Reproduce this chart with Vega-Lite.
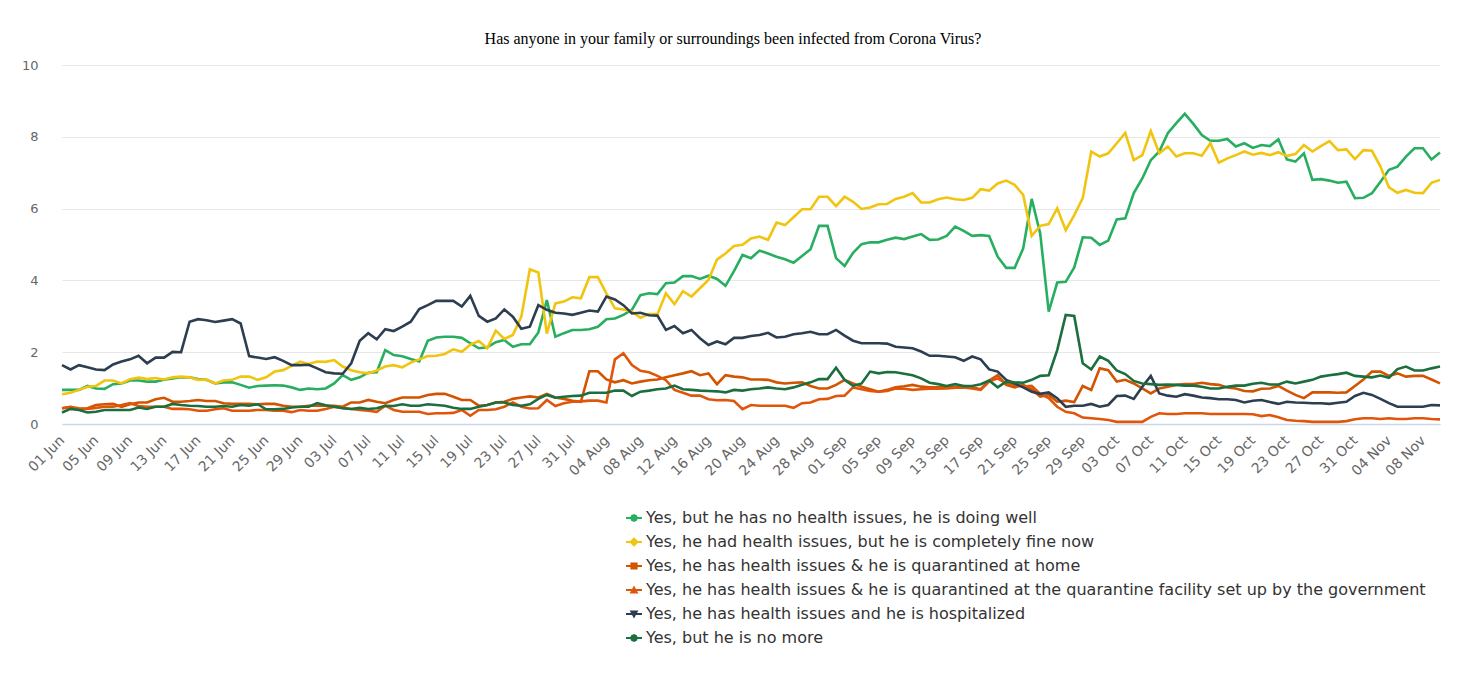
{
"$schema":"https://vega.github.io/schema/vega-lite/v6.json",
"width":1378,"height":359,
"autosize":"none",
"padding":{"left":62,"top":65,"right":26,"bottom":256},
"background":"#ffffff",
"title":{"text":"Has anyone in your family or surroundings been infected from Corona Virus?","font":"Liberation Serif","fontSize":16,"fontWeight":"normal","color":"#000000","anchor":"middle","offset":12,"dx":-18},
"data":{"values":[
{"d":"2020-06-01","well":0.95,"fine":0.83,"home":0.44,"fac":0.44,"hosp":1.64,"gone":0.32},
{"d":"2020-06-02","well":0.95,"fine":0.87,"home":0.48,"fac":0.47,"hosp":1.52,"gone":0.42},
{"d":"2020-06-03","well":0.95,"fine":0.95,"home":0.41,"fac":0.44,"hosp":1.64,"gone":0.39},
{"d":"2020-06-04","well":1.06,"fine":1.04,"home":0.44,"fac":0.42,"hosp":1.58,"gone":0.32},
{"d":"2020-06-05","well":0.99,"fine":1.06,"home":0.53,"fac":0.45,"hosp":1.52,"gone":0.34},
{"d":"2020-06-06","well":0.98,"fine":1.21,"home":0.55,"fac":0.48,"hosp":1.50,"gone":0.39},
{"d":"2020-06-07","well":1.11,"fine":1.21,"home":0.56,"fac":0.48,"hosp":1.66,"gone":0.39},
{"d":"2020-06-08","well":1.13,"fine":1.13,"home":0.48,"fac":0.53,"hosp":1.74,"gone":0.39},
{"d":"2020-06-09","well":1.21,"fine":1.25,"home":0.55,"fac":0.58,"hosp":1.80,"gone":0.39},
{"d":"2020-06-10","well":1.21,"fine":1.29,"home":0.60,"fac":0.50,"hosp":1.90,"gone":0.46},
{"d":"2020-06-11","well":1.18,"fine":1.25,"home":0.60,"fac":0.48,"hosp":1.69,"gone":0.42},
{"d":"2020-06-12","well":1.18,"fine":1.28,"home":0.69,"fac":0.48,"hosp":1.85,"gone":0.48},
{"d":"2020-06-13","well":1.23,"fine":1.24,"home":0.73,"fac":0.48,"hosp":1.85,"gone":0.48},
{"d":"2020-06-14","well":1.27,"fine":1.30,"home":0.62,"fac":0.42,"hosp":2.01,"gone":0.56},
{"d":"2020-06-15","well":1.30,"fine":1.32,"home":0.62,"fac":0.42,"hosp":2.00,"gone":0.53},
{"d":"2020-06-16","well":1.30,"fine":1.30,"home":0.64,"fac":0.41,"hosp":2.85,"gone":0.51},
{"d":"2020-06-17","well":1.25,"fine":1.23,"home":0.67,"fac":0.37,"hosp":2.92,"gone":0.50},
{"d":"2020-06-18","well":1.23,"fine":1.24,"home":0.64,"fac":0.37,"hosp":2.89,"gone":0.48},
{"d":"2020-06-19","well":1.13,"fine":1.13,"home":0.64,"fac":0.41,"hosp":2.84,"gone":0.48},
{"d":"2020-06-20","well":1.16,"fine":1.21,"home":0.58,"fac":0.44,"hosp":2.88,"gone":0.50},
{"d":"2020-06-21","well":1.16,"fine":1.23,"home":0.56,"fac":0.37,"hosp":2.92,"gone":0.48},
{"d":"2020-06-22","well":1.09,"fine":1.32,"home":0.56,"fac":0.37,"hosp":2.80,"gone":0.53},
{"d":"2020-06-23","well":1.01,"fine":1.32,"home":0.56,"fac":0.37,"hosp":1.89,"gone":0.51},
{"d":"2020-06-24","well":1.06,"fine":1.23,"home":0.55,"fac":0.39,"hosp":1.85,"gone":0.55},
{"d":"2020-06-25","well":1.07,"fine":1.30,"home":0.56,"fac":0.39,"hosp":1.81,"gone":0.41},
{"d":"2020-06-26","well":1.08,"fine":1.46,"home":0.56,"fac":0.37,"hosp":1.86,"gone":0.41},
{"d":"2020-06-27","well":1.07,"fine":1.50,"home":0.51,"fac":0.37,"hosp":1.76,"gone":0.42},
{"d":"2020-06-28","well":1.02,"fine":1.62,"home":0.48,"fac":0.33,"hosp":1.64,"gone":0.46},
{"d":"2020-06-29","well":0.95,"fine":1.74,"home":0.48,"fac":0.39,"hosp":1.64,"gone":0.48},
{"d":"2020-06-30","well":0.99,"fine":1.67,"home":0.51,"fac":0.37,"hosp":1.65,"gone":0.48},
{"d":"2020-07-01","well":0.97,"fine":1.74,"home":0.51,"fac":0.37,"hosp":1.55,"gone":0.58},
{"d":"2020-07-02","well":0.99,"fine":1.73,"home":0.51,"fac":0.42,"hosp":1.44,"gone":0.52},
{"d":"2020-07-03","well":1.13,"fine":1.78,"home":0.51,"fac":0.48,"hosp":1.41,"gone":0.48},
{"d":"2020-07-04","well":1.36,"fine":1.60,"home":0.48,"fac":0.45,"hosp":1.40,"gone":0.44},
{"d":"2020-07-05","well":1.23,"fine":1.50,"home":0.60,"fac":0.42,"hosp":1.69,"gone":0.42},
{"d":"2020-07-06","well":1.30,"fine":1.44,"home":0.60,"fac":0.39,"hosp":2.32,"gone":0.45},
{"d":"2020-07-07","well":1.43,"fine":1.41,"home":0.67,"fac":0.37,"hosp":2.53,"gone":0.42},
{"d":"2020-07-08","well":1.44,"fine":1.49,"home":0.62,"fac":0.34,"hosp":2.36,"gone":0.44},
{"d":"2020-07-09","well":2.06,"fine":1.60,"home":0.58,"fac":0.51,"hosp":2.64,"gone":0.51},
{"d":"2020-07-10","well":1.92,"fine":1.64,"home":0.67,"fac":0.39,"hosp":2.59,"gone":0.50},
{"d":"2020-07-11","well":1.89,"fine":1.58,"home":0.74,"fac":0.34,"hosp":2.71,"gone":0.55},
{"d":"2020-07-12","well":1.81,"fine":1.71,"home":0.74,"fac":0.34,"hosp":2.85,"gone":0.51},
{"d":"2020-07-13","well":1.74,"fine":1.80,"home":0.74,"fac":0.34,"hosp":3.20,"gone":0.51},
{"d":"2020-07-14","well":2.32,"fine":1.89,"home":0.81,"fac":0.28,"hosp":3.31,"gone":0.55},
{"d":"2020-07-15","well":2.41,"fine":1.90,"home":0.84,"fac":0.30,"hosp":3.43,"gone":0.53},
{"d":"2020-07-16","well":2.43,"fine":1.95,"home":0.84,"fac":0.30,"hosp":3.43,"gone":0.51},
{"d":"2020-07-17","well":2.43,"fine":2.08,"home":0.76,"fac":0.31,"hosp":3.43,"gone":0.45},
{"d":"2020-07-18","well":2.40,"fine":2.01,"home":0.67,"fac":0.39,"hosp":3.27,"gone":0.42},
{"d":"2020-07-19","well":2.25,"fine":2.21,"home":0.67,"fac":0.23,"hosp":3.57,"gone":0.42},
{"d":"2020-07-20","well":2.11,"fine":2.31,"home":0.51,"fac":0.39,"hosp":3.01,"gone":0.48},
{"d":"2020-07-21","well":2.14,"fine":2.11,"home":0.53,"fac":0.39,"hosp":2.85,"gone":0.53},
{"d":"2020-07-22","well":2.28,"fine":2.60,"home":0.60,"fac":0.41,"hosp":2.94,"gone":0.60},
{"d":"2020-07-23","well":2.34,"fine":2.37,"home":0.62,"fac":0.48,"hosp":3.19,"gone":0.60},
{"d":"2020-07-24","well":2.15,"fine":2.48,"home":0.70,"fac":0.60,"hosp":2.99,"gone":0.53},
{"d":"2020-07-25","well":2.22,"fine":2.99,"home":0.74,"fac":0.48,"hosp":2.65,"gone":0.51},
{"d":"2020-07-26","well":2.22,"fine":4.31,"home":0.77,"fac":0.43,"hosp":2.71,"gone":0.55},
{"d":"2020-07-27","well":2.55,"fine":4.22,"home":0.74,"fac":0.44,"hosp":3.31,"gone":0.70},
{"d":"2020-07-28","well":3.45,"fine":2.52,"home":0.84,"fac":0.67,"hosp":3.18,"gone":0.81},
{"d":"2020-07-29","well":2.43,"fine":3.36,"home":0.74,"fac":0.50,"hosp":3.10,"gone":0.73},
{"d":"2020-07-30","well":2.53,"fine":3.41,"home":0.70,"fac":0.58,"hosp":3.08,"gone":0.76},
{"d":"2020-07-31","well":2.62,"fine":3.53,"home":0.65,"fac":0.62,"hosp":3.04,"gone":0.78},
{"d":"2020-08-01","well":2.62,"fine":3.50,"home":0.62,"fac":0.63,"hosp":3.10,"gone":0.79},
{"d":"2020-08-02","well":2.64,"fine":4.09,"home":1.47,"fac":0.65,"hosp":3.16,"gone":0.87},
{"d":"2020-08-03","well":2.71,"fine":4.09,"home":1.47,"fac":0.65,"hosp":3.13,"gone":0.87},
{"d":"2020-08-04","well":2.92,"fine":3.64,"home":1.24,"fac":0.60,"hosp":3.55,"gone":0.87},
{"d":"2020-08-05","well":2.94,"fine":3.22,"home":1.16,"fac":1.80,"hosp":3.47,"gone":0.93},
{"d":"2020-08-06","well":3.04,"fine":3.19,"home":1.22,"fac":1.97,"hosp":3.31,"gone":0.93},
{"d":"2020-08-07","well":3.18,"fine":3.13,"home":1.13,"fac":1.64,"hosp":3.08,"gone":0.78},
{"d":"2020-08-08","well":3.59,"fine":2.96,"home":1.18,"fac":1.48,"hosp":3.10,"gone":0.90},
{"d":"2020-08-09","well":3.64,"fine":3.06,"home":1.22,"fac":1.44,"hosp":3.03,"gone":0.93},
{"d":"2020-08-10","well":3.62,"fine":3.06,"home":1.24,"fac":1.34,"hosp":3.02,"gone":0.97},
{"d":"2020-08-11","well":3.92,"fine":3.64,"home":1.30,"fac":1.22,"hosp":2.62,"gone":0.99},
{"d":"2020-08-12","well":3.94,"fine":3.34,"home":1.36,"fac":0.95,"hosp":2.73,"gone":1.07},
{"d":"2020-08-13","well":4.12,"fine":3.70,"home":1.41,"fac":0.87,"hosp":2.53,"gone":0.97},
{"d":"2020-08-14","well":4.12,"fine":3.55,"home":1.47,"fac":0.79,"hosp":2.62,"gone":0.95},
{"d":"2020-08-15","well":4.04,"fine":3.78,"home":1.36,"fac":0.79,"hosp":2.39,"gone":0.93},
{"d":"2020-08-16","well":4.13,"fine":4.01,"home":1.41,"fac":0.69,"hosp":2.20,"gone":0.92},
{"d":"2020-08-17","well":4.04,"fine":4.58,"home":1.11,"fac":0.66,"hosp":2.30,"gone":0.91},
{"d":"2020-08-18","well":3.85,"fine":4.75,"home":1.36,"fac":0.67,"hosp":2.22,"gone":0.88},
{"d":"2020-08-19","well":4.26,"fine":4.96,"home":1.32,"fac":0.64,"hosp":2.40,"gone":0.95},
{"d":"2020-08-20","well":4.71,"fine":4.99,"home":1.30,"fac":0.41,"hosp":2.40,"gone":0.93},
{"d":"2020-08-21","well":4.62,"fine":5.17,"home":1.24,"fac":0.53,"hosp":2.45,"gone":0.97},
{"d":"2020-08-22","well":4.83,"fine":5.22,"home":1.24,"fac":0.51,"hosp":2.48,"gone":0.99},
{"d":"2020-08-23","well":4.75,"fine":5.13,"home":1.23,"fac":0.51,"hosp":2.54,"gone":1.02},
{"d":"2020-08-24","well":4.66,"fine":5.61,"home":1.16,"fac":0.51,"hosp":2.41,"gone":0.99},
{"d":"2020-08-25","well":4.59,"fine":5.54,"home":1.13,"fac":0.51,"hosp":2.43,"gone":0.97},
{"d":"2020-08-26","well":4.49,"fine":5.76,"home":1.15,"fac":0.45,"hosp":2.50,"gone":1.02},
{"d":"2020-08-27","well":4.68,"fine":5.98,"home":1.16,"fac":0.58,"hosp":2.53,"gone":1.09},
{"d":"2020-08-28","well":4.87,"fine":5.98,"home":1.06,"fac":0.60,"hosp":2.57,"gone":1.16},
{"d":"2020-08-29","well":5.52,"fine":6.33,"home":0.99,"fac":0.69,"hosp":2.50,"gone":1.25},
{"d":"2020-08-30","well":5.52,"fine":6.33,"home":0.99,"fac":0.70,"hosp":2.50,"gone":1.25},
{"d":"2020-08-31","well":4.62,"fine":6.07,"home":1.09,"fac":0.78,"hosp":2.62,"gone":1.57},
{"d":"2020-09-01","well":4.40,"fine":6.33,"home":1.23,"fac":0.79,"hosp":2.46,"gone":1.23},
{"d":"2020-09-02","well":4.77,"fine":6.19,"home":1.13,"fac":1.02,"hosp":2.32,"gone":1.06},
{"d":"2020-09-03","well":5.01,"fine":5.99,"home":1.04,"fac":0.97,"hosp":2.25,"gone":1.13},
{"d":"2020-09-04","well":5.06,"fine":6.03,"home":0.97,"fac":0.92,"hosp":2.25,"gone":1.46},
{"d":"2020-09-05","well":5.06,"fine":6.12,"home":0.90,"fac":0.90,"hosp":2.25,"gone":1.41},
{"d":"2020-09-06","well":5.13,"fine":6.13,"home":0.95,"fac":0.92,"hosp":2.24,"gone":1.45},
{"d":"2020-09-07","well":5.19,"fine":6.27,"home":1.02,"fac":0.99,"hosp":2.15,"gone":1.44},
{"d":"2020-09-08","well":5.15,"fine":6.33,"home":1.05,"fac":0.98,"hosp":2.13,"gone":1.40},
{"d":"2020-09-09","well":5.22,"fine":6.43,"home":1.09,"fac":0.95,"hosp":2.11,"gone":1.36},
{"d":"2020-09-10","well":5.29,"fine":6.17,"home":1.04,"fac":0.97,"hosp":2.02,"gone":1.27},
{"d":"2020-09-11","well":5.13,"fine":6.17,"home":1.02,"fac":0.98,"hosp":1.90,"gone":1.15},
{"d":"2020-09-12","well":5.14,"fine":6.26,"home":1.02,"fac":0.98,"hosp":1.90,"gone":1.11},
{"d":"2020-09-13","well":5.24,"fine":6.31,"home":1.04,"fac":0.99,"hosp":1.88,"gone":1.06},
{"d":"2020-09-14","well":5.50,"fine":6.26,"home":1.02,"fac":1.01,"hosp":1.86,"gone":1.11},
{"d":"2020-09-15","well":5.38,"fine":6.24,"home":1.06,"fac":1.02,"hosp":1.76,"gone":1.06},
{"d":"2020-09-16","well":5.24,"fine":6.30,"home":1.02,"fac":0.99,"hosp":1.88,"gone":1.06},
{"d":"2020-09-17","well":5.26,"fine":6.54,"home":0.97,"fac":0.95,"hosp":1.80,"gone":1.11},
{"d":"2020-09-18","well":5.24,"fine":6.50,"home":1.21,"fac":1.18,"hosp":1.52,"gone":1.21},
{"d":"2020-09-19","well":4.66,"fine":6.70,"home":1.36,"fac":1.27,"hosp":1.46,"gone":1.02},
{"d":"2020-09-20","well":4.35,"fine":6.78,"home":1.09,"fac":1.13,"hosp":1.23,"gone":1.18},
{"d":"2020-09-21","well":4.35,"fine":6.66,"home":1.02,"fac":1.09,"hosp":1.13,"gone":1.16},
{"d":"2020-09-22","well":4.89,"fine":6.38,"home":1.09,"fac":1.04,"hosp":1.02,"gone":1.15},
{"d":"2020-09-23","well":6.27,"fine":5.24,"home":0.97,"fac":1.06,"hosp":0.90,"gone":1.23},
{"d":"2020-09-24","well":5.31,"fine":5.52,"home":0.76,"fac":0.84,"hosp":0.84,"gone":1.34},
{"d":"2020-09-25","well":3.13,"fine":5.57,"home":0.81,"fac":0.72,"hosp":0.88,"gone":1.36},
{"d":"2020-09-26","well":3.94,"fine":6.01,"home":0.62,"fac":0.48,"hosp":0.72,"gone":2.06},
{"d":"2020-09-27","well":3.96,"fine":5.40,"home":0.65,"fac":0.34,"hosp":0.48,"gone":3.04},
{"d":"2020-09-28","well":4.36,"fine":5.82,"home":0.61,"fac":0.30,"hosp":0.51,"gone":3.01},
{"d":"2020-09-29","well":5.20,"fine":6.29,"home":1.06,"fac":0.18,"hosp":0.51,"gone":1.69},
{"d":"2020-09-30","well":5.19,"fine":7.59,"home":0.95,"fac":0.16,"hosp":0.56,"gone":1.52},
{"d":"2020-10-01","well":4.99,"fine":7.45,"home":1.55,"fac":0.14,"hosp":0.48,"gone":1.88},
{"d":"2020-10-02","well":5.11,"fine":7.54,"home":1.50,"fac":0.11,"hosp":0.53,"gone":1.76},
{"d":"2020-10-03","well":5.70,"fine":7.82,"home":1.18,"fac":0.06,"hosp":0.78,"gone":1.49},
{"d":"2020-10-04","well":5.73,"fine":8.11,"home":1.23,"fac":0.06,"hosp":0.79,"gone":1.39},
{"d":"2020-10-05","well":6.43,"fine":7.35,"home":1.13,"fac":0.06,"hosp":0.70,"gone":1.20},
{"d":"2020-10-06","well":6.84,"fine":7.49,"home":0.99,"fac":0.06,"hosp":1.04,"gone":1.13},
{"d":"2020-10-07","well":7.35,"fine":8.16,"home":0.85,"fac":0.20,"hosp":1.34,"gone":1.11},
{"d":"2020-10-08","well":7.59,"fine":7.54,"home":0.99,"fac":0.30,"hosp":0.85,"gone":1.09},
{"d":"2020-10-09","well":8.10,"fine":7.73,"home":1.04,"fac":0.28,"hosp":0.79,"gone":1.10},
{"d":"2020-10-10","well":8.38,"fine":7.45,"home":1.09,"fac":0.28,"hosp":0.76,"gone":1.09},
{"d":"2020-10-11","well":8.64,"fine":7.54,"home":1.11,"fac":0.30,"hosp":0.83,"gone":1.07},
{"d":"2020-10-12","well":8.36,"fine":7.54,"home":1.11,"fac":0.30,"hosp":0.79,"gone":1.07},
{"d":"2020-10-13","well":8.05,"fine":7.47,"home":1.15,"fac":0.30,"hosp":0.74,"gone":1.04},
{"d":"2020-10-14","well":7.89,"fine":7.82,"home":1.11,"fac":0.28,"hosp":0.72,"gone":0.99},
{"d":"2020-10-15","well":7.89,"fine":7.28,"home":1.09,"fac":0.28,"hosp":0.69,"gone":0.99},
{"d":"2020-10-16","well":7.94,"fine":7.40,"home":1.02,"fac":0.28,"hosp":0.69,"gone":1.04},
{"d":"2020-10-17","well":7.73,"fine":7.49,"home":0.99,"fac":0.28,"hosp":0.67,"gone":1.07},
{"d":"2020-10-18","well":7.82,"fine":7.59,"home":0.92,"fac":0.28,"hosp":0.60,"gone":1.07},
{"d":"2020-10-19","well":7.69,"fine":7.50,"home":0.91,"fac":0.27,"hosp":0.65,"gone":1.12},
{"d":"2020-10-20","well":7.77,"fine":7.55,"home":0.98,"fac":0.22,"hosp":0.67,"gone":1.15},
{"d":"2020-10-21","well":7.74,"fine":7.49,"home":0.99,"fac":0.25,"hosp":0.61,"gone":1.10},
{"d":"2020-10-22","well":7.93,"fine":7.57,"home":1.06,"fac":0.19,"hosp":0.56,"gone":1.10},
{"d":"2020-10-23","well":7.37,"fine":7.47,"home":0.93,"fac":0.11,"hosp":0.62,"gone":1.18},
{"d":"2020-10-24","well":7.31,"fine":7.52,"home":0.81,"fac":0.09,"hosp":0.60,"gone":1.13},
{"d":"2020-10-25","well":7.54,"fine":7.77,"home":0.72,"fac":0.08,"hosp":0.59,"gone":1.18},
{"d":"2020-10-26","well":6.80,"fine":7.59,"home":0.88,"fac":0.06,"hosp":0.58,"gone":1.23},
{"d":"2020-10-27","well":6.82,"fine":7.74,"home":0.88,"fac":0.06,"hosp":0.58,"gone":1.32},
{"d":"2020-10-28","well":6.78,"fine":7.88,"home":0.88,"fac":0.06,"hosp":0.56,"gone":1.36},
{"d":"2020-10-29","well":6.72,"fine":7.63,"home":0.87,"fac":0.06,"hosp":0.59,"gone":1.39},
{"d":"2020-10-30","well":6.75,"fine":7.65,"home":0.88,"fac":0.08,"hosp":0.62,"gone":1.43},
{"d":"2020-10-31","well":6.29,"fine":7.38,"home":1.06,"fac":0.13,"hosp":0.78,"gone":1.34},
{"d":"2020-11-01","well":6.30,"fine":7.63,"home":1.24,"fac":0.16,"hosp":0.87,"gone":1.32},
{"d":"2020-11-02","well":6.43,"fine":7.61,"home":1.46,"fac":0.16,"hosp":0.81,"gone":1.30},
{"d":"2020-11-03","well":6.75,"fine":7.17,"home":1.46,"fac":0.14,"hosp":0.70,"gone":1.35},
{"d":"2020-11-04","well":7.08,"fine":6.59,"home":1.34,"fac":0.16,"hosp":0.58,"gone":1.29},
{"d":"2020-11-05","well":7.17,"fine":6.44,"home":1.41,"fac":0.14,"hosp":0.48,"gone":1.53},
{"d":"2020-11-06","well":7.45,"fine":6.52,"home":1.32,"fac":0.14,"hosp":0.48,"gone":1.60},
{"d":"2020-11-07","well":7.68,"fine":6.44,"home":1.34,"fac":0.16,"hosp":0.48,"gone":1.49},
{"d":"2020-11-08","well":7.68,"fine":6.43,"home":1.34,"fac":0.16,"hosp":0.48,"gone":1.49},
{"d":"2020-11-09","well":7.37,"fine":6.72,"home":1.24,"fac":0.14,"hosp":0.53,"gone":1.55},
{"d":"2020-11-10","well":7.56,"fine":6.80,"home":1.13,"fac":0.13,"hosp":0.52,"gone":1.60}
]},
"transform":[{"fold":["well","fine","home","fac","hosp","gone"],"as":["s","v"]}],
"encoding":{
 "x":{"field":"d","type":"temporal",
  "scale":{"type":"utc","domain":[{"year":2020,"month":6,"date":1,"utc":true},{"year":2020,"month":11,"date":10,"utc":true}]},
  "axis":{"title":null,"format":"%d %b","grid":false,"ticks":false,"domainColor":"#ccd6eb","domainWidth":1.5,"labelAngle":-45,"labelAlign":"right","labelBaseline":"middle","labelPadding":14,"labelColor":"#666666","labelFont":"DejaVu Sans","labelFontSize":14,"labelOverlap":false,"labelBound":false,"labelFlush":false,
   "values":[
    {"year":2020,"month":6,"date":1,"utc":true},{"year":2020,"month":6,"date":5,"utc":true},{"year":2020,"month":6,"date":9,"utc":true},{"year":2020,"month":6,"date":13,"utc":true},{"year":2020,"month":6,"date":17,"utc":true},{"year":2020,"month":6,"date":21,"utc":true},{"year":2020,"month":6,"date":25,"utc":true},{"year":2020,"month":6,"date":29,"utc":true},
    {"year":2020,"month":7,"date":3,"utc":true},{"year":2020,"month":7,"date":7,"utc":true},{"year":2020,"month":7,"date":11,"utc":true},{"year":2020,"month":7,"date":15,"utc":true},{"year":2020,"month":7,"date":19,"utc":true},{"year":2020,"month":7,"date":23,"utc":true},{"year":2020,"month":7,"date":27,"utc":true},{"year":2020,"month":7,"date":31,"utc":true},
    {"year":2020,"month":8,"date":4,"utc":true},{"year":2020,"month":8,"date":8,"utc":true},{"year":2020,"month":8,"date":12,"utc":true},{"year":2020,"month":8,"date":16,"utc":true},{"year":2020,"month":8,"date":20,"utc":true},{"year":2020,"month":8,"date":24,"utc":true},{"year":2020,"month":8,"date":28,"utc":true},
    {"year":2020,"month":9,"date":1,"utc":true},{"year":2020,"month":9,"date":5,"utc":true},{"year":2020,"month":9,"date":9,"utc":true},{"year":2020,"month":9,"date":13,"utc":true},{"year":2020,"month":9,"date":17,"utc":true},{"year":2020,"month":9,"date":21,"utc":true},{"year":2020,"month":9,"date":25,"utc":true},{"year":2020,"month":9,"date":29,"utc":true},
    {"year":2020,"month":10,"date":3,"utc":true},{"year":2020,"month":10,"date":7,"utc":true},{"year":2020,"month":10,"date":11,"utc":true},{"year":2020,"month":10,"date":15,"utc":true},{"year":2020,"month":10,"date":19,"utc":true},{"year":2020,"month":10,"date":23,"utc":true},{"year":2020,"month":10,"date":27,"utc":true},{"year":2020,"month":10,"date":31,"utc":true},
    {"year":2020,"month":11,"date":4,"utc":true},{"year":2020,"month":11,"date":8,"utc":true}
   ]}},
 "y":{"field":"v","type":"quantitative","scale":{"domain":[0,10],"nice":false},
  "axis":{"title":null,"values":[0,2,4,6,8,10],"grid":true,"gridColor":"#e6e6e6","domain":false,"ticks":false,"labelPadding":24,"labelColor":"#666666","labelFont":"DejaVu Sans","labelFontSize":13}}
},
"layer":[
 {"mark":{"type":"line","strokeWidth":2.6,"interpolate":"linear"},
  "encoding":{"color":{"field":"s","type":"nominal","legend":null,
   "scale":{"domain":["well","fine","home","fac","hosp","gone"],"range":["#27ae60","#f1c40f","#d35400","#df560a","#2c3e50","#1b6e3e"]}}}},
 {"mark":{"type":"point","filled":true,"opacity":0,"size":0},
  "encoding":{
   "color":{"field":"s","type":"nominal",
    "scale":{"domain":["well","fine","home","fac","hosp","gone"],"range":["#27ae60","#f1c40f","#d35400","#df560a","#2c3e50","#1b6e3e"]},
    "legend":{"title":null,"orient":"none","legendX":564,"legendY":445,"direction":"vertical","padding":0,"symbolSize":256,"symbolStrokeWidth":0,"symbolOpacity":1,"labelFont":"DejaVu Sans","labelFontSize":16,"labelColor":"#333333","labelLimit":1000,"labelOffset":4,"rowPadding":8,
     "labelExpr":"datum.label == 'well' ? 'Yes, but he has no health issues, he is doing well' : datum.label == 'fine' ? 'Yes, he had health issues, but he is completely fine now' : datum.label == 'home' ? 'Yes, he has health issues & he is quarantined at home' : datum.label == 'fac' ? 'Yes, he has health issues & he is quarantined at the quarantine facility set up by the government' : datum.label == 'hosp' ? 'Yes, he has health issues and he is hospitalized' : 'Yes, but he is no more'"}},
   "shape":{"field":"s","type":"nominal",
    "scale":{"domain":["well","fine","home","fac","hosp","gone"],
     "range":["M-1,-0.14H1V0.14H-1Z M0.5,0L0.35,0.35L0,0.5L-0.35,0.35L-0.5,0L-0.35,-0.35L0,-0.5L0.35,-0.35Z",
              "M-1,-0.14H1V0.14H-1Z M0,-0.6L0.6,0L0,0.6L-0.6,0Z",
              "M-1,-0.14H1V0.14H-1Z M-0.45,-0.45H0.45V0.45H-0.45Z",
              "M-1,-0.14H1V0.14H-1Z M0,-0.55L0.55,0.45H-0.55Z",
              "M-1,-0.14H1V0.14H-1Z M-0.55,-0.45H0.55L0,0.55Z",
              "M-1,-0.14H1V0.14H-1Z M0.5,0L0.35,0.35L0,0.5L-0.35,0.35L-0.5,0L-0.35,-0.35L0,-0.5L0.35,-0.35Z"]},
    "legend":{"title":null,"orient":"none","legendX":564,"legendY":445,"direction":"vertical","padding":0,"symbolSize":256,"symbolStrokeWidth":0,"symbolOpacity":1,"labelFont":"DejaVu Sans","labelFontSize":16,"labelColor":"#333333","labelLimit":1000,"labelOffset":4,"rowPadding":8,
     "labelExpr":"datum.label == 'well' ? 'Yes, but he has no health issues, he is doing well' : datum.label == 'fine' ? 'Yes, he had health issues, but he is completely fine now' : datum.label == 'home' ? 'Yes, he has health issues & he is quarantined at home' : datum.label == 'fac' ? 'Yes, he has health issues & he is quarantined at the quarantine facility set up by the government' : datum.label == 'hosp' ? 'Yes, he has health issues and he is hospitalized' : 'Yes, but he is no more'"}}
  }}
],
"resolve":{"scale":{"color":"independent","shape":"independent"},"legend":{"color":"independent","shape":"independent"}},
"config":{"view":{"stroke":null},"font":"DejaVu Sans"}
}
